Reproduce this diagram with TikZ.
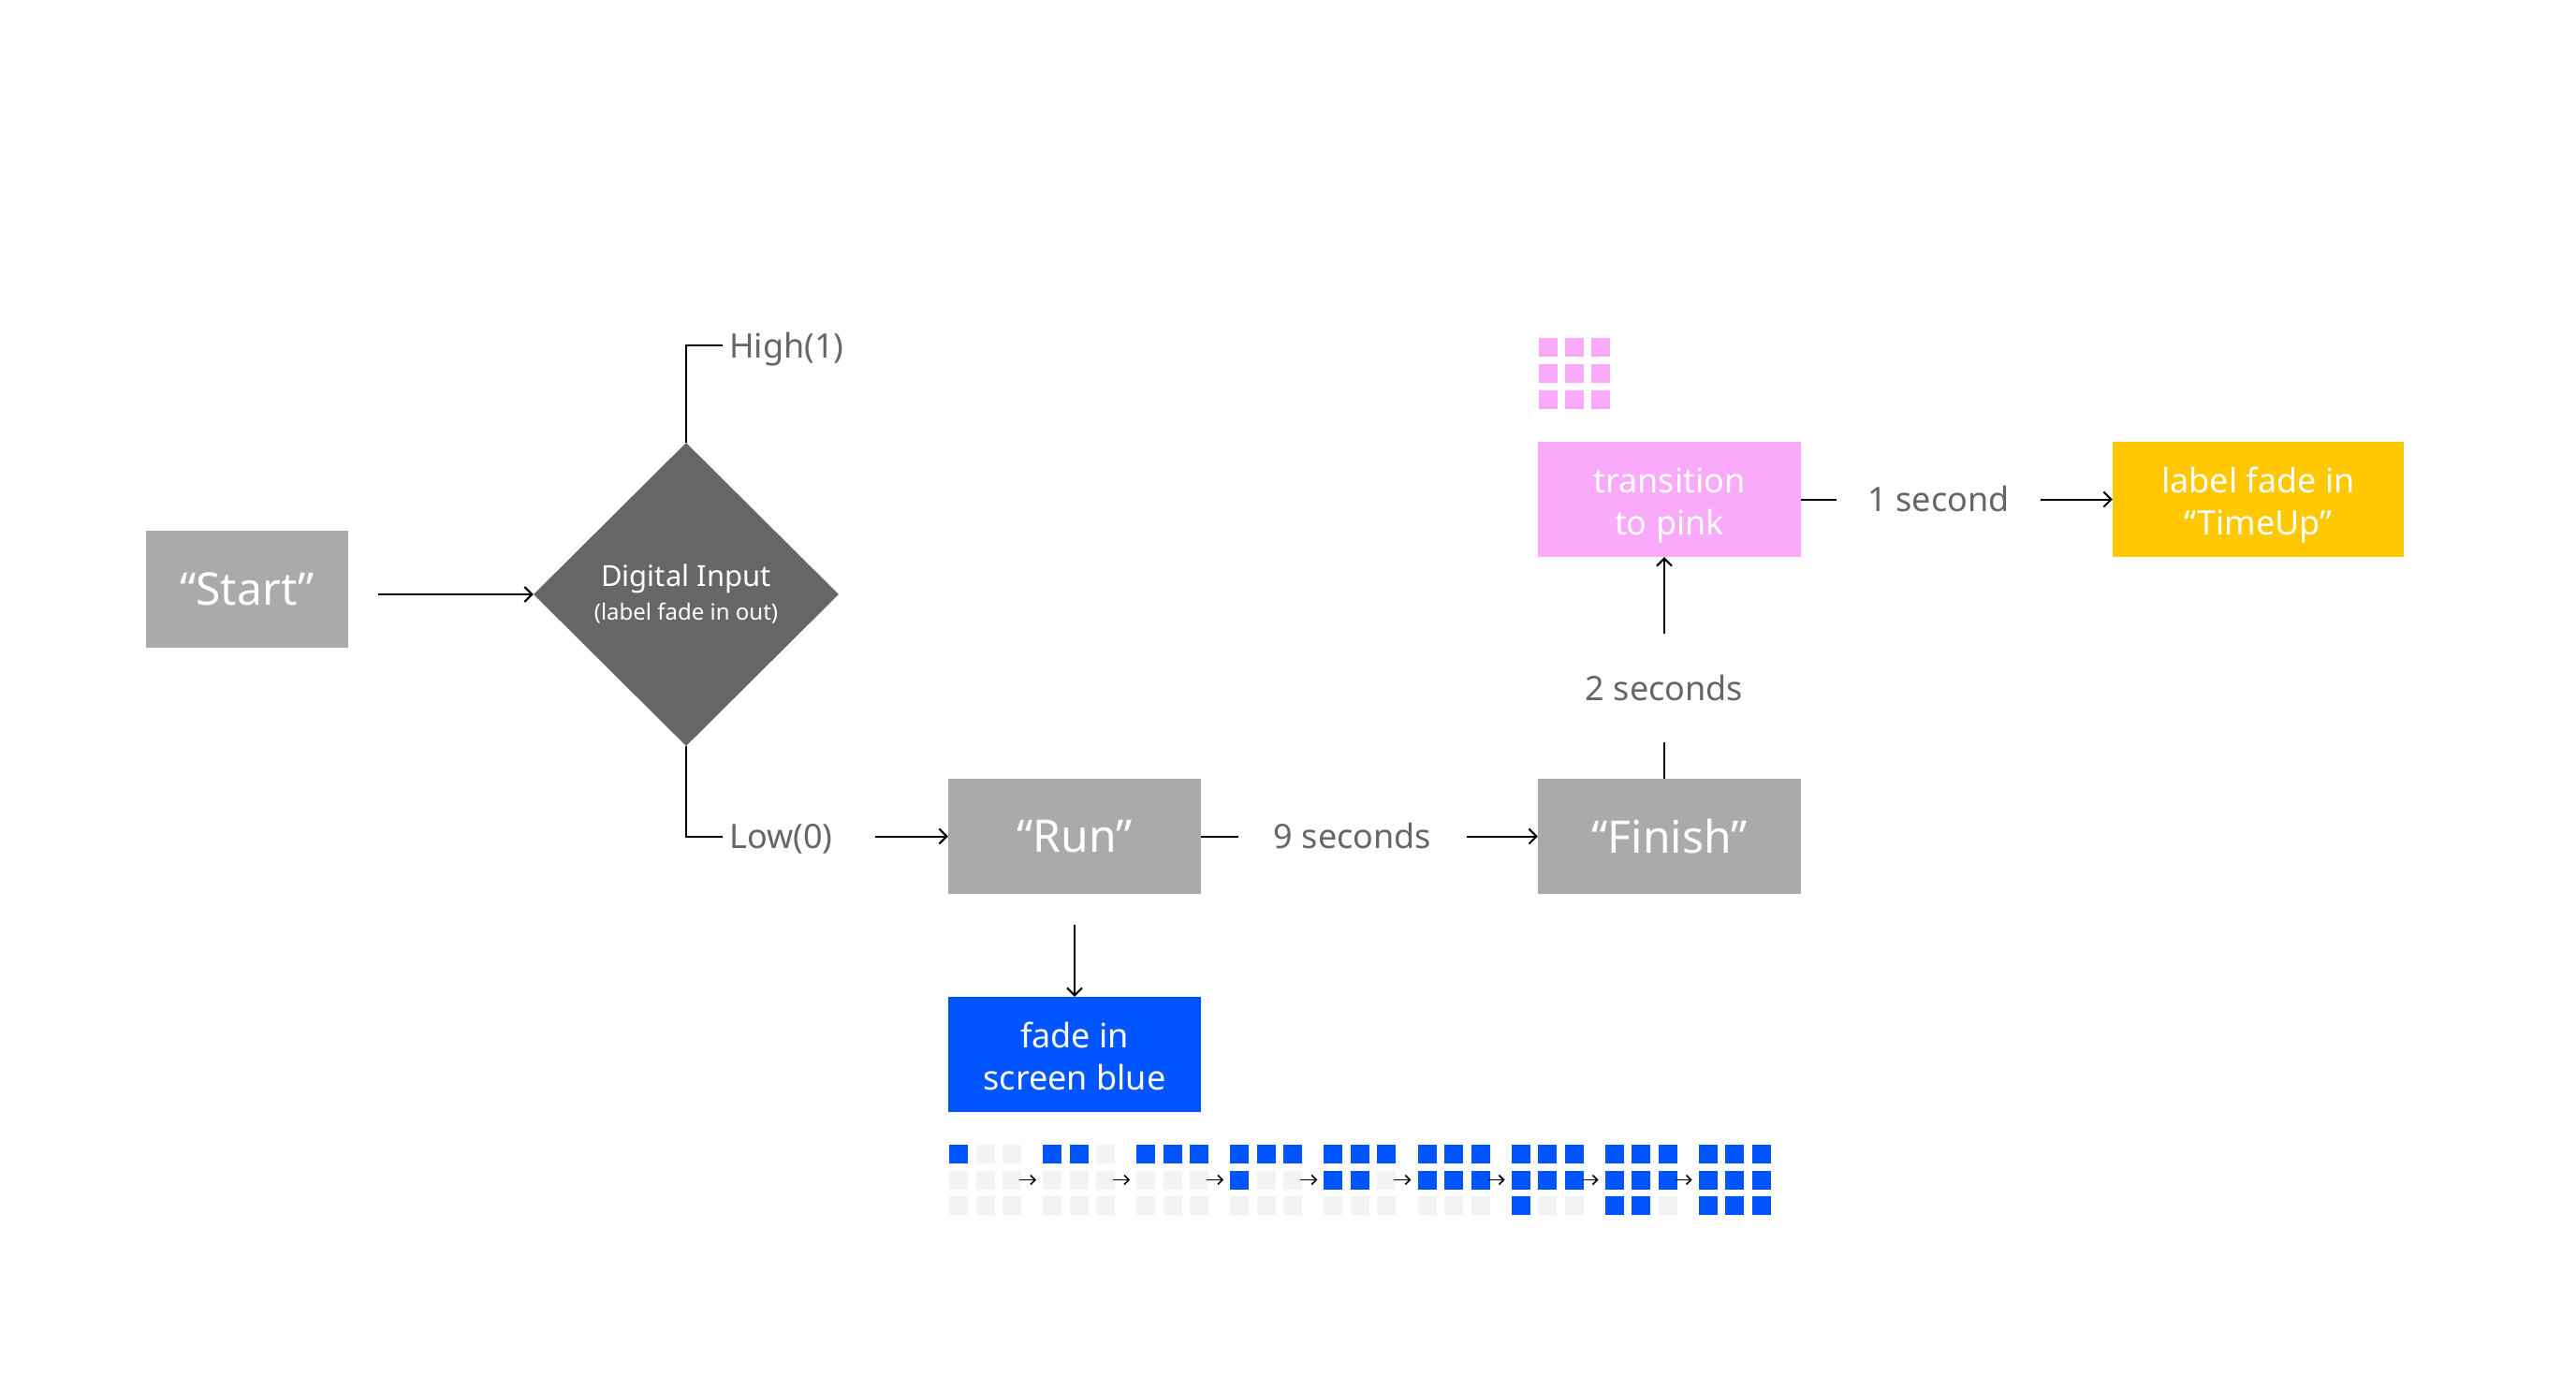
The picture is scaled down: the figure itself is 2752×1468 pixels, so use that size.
\documentclass[tikz,border=0pt]{standalone}
\usepackage{fontspec}
\setmainfont{Noto Sans}
\usetikzlibrary{shapes.geometric,arrows.meta}
\definecolor{boxgray}{HTML}{AAAAAA}
\definecolor{diagray}{HTML}{666666}
\definecolor{labgray}{HTML}{666666}
\definecolor{fblue}{HTML}{0055FF}
\definecolor{fpink}{HTML}{FAAAFA}
\definecolor{fyellow}{HTML}{FFC800}
\definecolor{cellgray}{HTML}{F3F3F3}
\newcommand{\twolines}[2]{\raisebox{-6pt}[\height][\depth]{\begin{tabular}{@{}c@{}}#1\\#2\end{tabular}}}
\begin{document}
\begin{tikzpicture}[x=1pt,y=-1pt,
  box/.style={rectangle, inner sep=0pt, text=white, align=center},
  bigtxt/.style={font=\fontsize{48}{58}\selectfont},
  midtxt/.style={font=\fontsize{36}{45}\selectfont},
  lab/.style={inner sep=0pt, text=labgray, font=\fontsize{36}{45}\selectfont, text height=30pt, text depth=4pt},
  conn/.style={line width=2pt, draw=black},
  arr/.style={conn, -{Straight Barb[length=8pt,width=16pt,line width=2pt]}},
  gridarr/.style={line width=1.6pt, draw=black, -{Straight Barb[length=5pt,width=10pt,line width=1.6pt]}},
]
\useasboundingbox[fill=white] (0,0) rectangle (2752,1468);

% boxes
\node[box, fill=boxgray, minimum width=216pt, minimum height=125pt, bigtxt] (start) at (264,629.5) {“Start”};
\node[diamond, fill=diagray, minimum width=326pt, minimum height=324pt, inner sep=0pt, text=white, align=center] (dia) at (733,635)
  {{\fontsize{31}{37}\selectfont Digital Input}\\[9pt]{\fontsize{24}{28}\selectfont (label fade in out)}};
\node[box, fill=boxgray, minimum width=270pt, minimum height=123pt, bigtxt] (run) at (1148,893.5) {“Run”};
\node[box, fill=boxgray, minimum width=281pt, minimum height=123pt, bigtxt] (finish) at (1783.5,893.5) {“Finish”};
\node[box, fill=fpink, minimum width=281pt, minimum height=123pt, midtxt] (trans) at (1783.5,533.5) {\twolines{transition}{to pink}};
\node[box, fill=fyellow, minimum width=311pt, minimum height=123pt, midtxt] (timeup) at (2412.5,533.5) {\twolines{label fade in}{“TimeUp”}};
\node[box, fill=fblue, minimum width=270pt, minimum height=123pt, midtxt] (blue) at (1148,1126.5) {\twolines{fade in}{screen blue}};

% labels
\node[lab, anchor=west, inner xsep=7pt] (high) at (772,369) {High(1)};
\node[lab, anchor=west, inner xsep=7pt, text width=149pt, align=left] (low) at (772,893.5) {Low(0)};
\node[lab, minimum width=244pt] (nine) at (1445,893.5) {9 seconds};
\node[lab, minimum width=177pt, minimum height=116pt] (two) at (1778,735) {2 seconds};
\node[lab, minimum width=218pt] (one) at (2071,533.5) {1 second};

% connectors
\draw[arr, shorten <=32pt] (start.east |- dia.west) -- (dia.west);
\draw[conn] (dia.north) |- (high.west);
\draw[conn] (dia.south) |- (low.west);
\draw[arr] (low.east) -- (run.west);
\draw[conn] (run.east) -- (nine.west);
\draw[arr] (nine.east) -- (finish.west);
\draw[conn] (finish.north -| two.south) -- (two.south);
\draw[arr] (two.north) -- (two.north |- trans.south);
\draw[conn] (trans.east) -- (one.west);
\draw[arr] (one.east) -- (timeup.west);
\draw[arr, shorten <=33pt] (run.south) -- (blue.north);

% pink grid
\foreach \r in {0,1,2} {
  \foreach \c in {0,1,2} {
    \fill[fpink] (1644+\c*28, 361+\r*28) rectangle ++(20,20);
  }
}

% blue progress grids
\foreach \g in {1,...,9} {
  \pgfmathsetmacro\gx{1014+(\g-1)*100.1}
  \foreach \r in {0,1,2} {
    \foreach \c in {0,1,2} {
      \pgfmathtruncatemacro\idx{\r*3+\c+1}
      \ifnum\idx>\g\relax\def\cc{cellgray}\else\def\cc{fblue}\fi
      \fill[\cc] (\gx+\c*28.5, 1223+\r*27.5) rectangle ++(20,20);
    }
  }
}
\foreach \g in {1,...,8} {
  \pgfmathsetmacro\ax{1014+(\g-1)*100.1+75}
  \draw[gridarr] (\ax,1260.5) -- ++(18,0);
}
\end{tikzpicture}
\end{document}
